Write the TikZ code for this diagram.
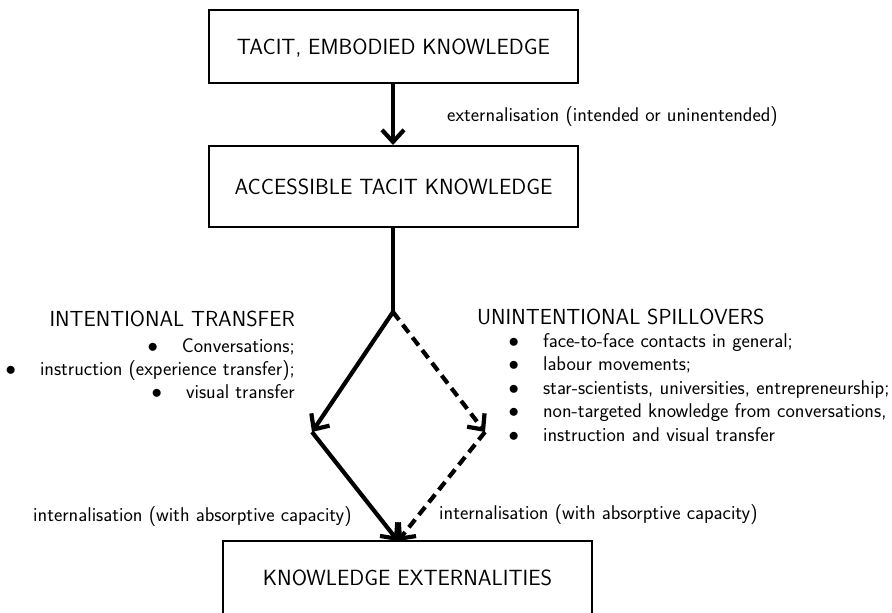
\documentclass[tikz,border=0pt]{standalone}
\usetikzlibrary{arrows.meta}
\newcommand{\bulletmark}{$\bullet$\hspace{24pt}}
\begin{document}
\begin{tikzpicture}[x=1pt, y=-1pt,
  box/.style={draw, line width=2pt, minimum width=369pt, text height=15.2pt, text depth=0pt,
              font=\sffamily\fontsize{22}{26}\selectfont},
  heading/.style={font=\sffamily\fontsize{21.8}{26}\selectfont, inner sep=0pt},
  item/.style={font=\sffamily\fontsize{19.9}{24}\selectfont, inner sep=0pt},
  flow/.style={line width=4.2pt, -{Straight Barb[length=12pt, width=22pt]}},
  link/.style={line width=4.2pt},
  spill/.style={flow, dash pattern=on 10pt off 6pt}
]
\clip (0,0) rectangle (892,613);

% boxes
\node[box, minimum height=73pt] (tacit) at (393.5,46.5) {TACIT, EMBODIED KNOWLEDGE};
\node[box, minimum height=81pt] (access) at (393.5,186.5) {ACCESSIBLE TACIT KNOWLEDGE};
\node[box, minimum height=74pt] (ext) at (407.5,578) {KNOWLEDGE EXTERNALITIES};

% branching points
\coordinate (fork) at (393,312);
\coordinate (left) at (312,432);
\coordinate (right) at (485,432);
\coordinate (tip) at (398,541);

% connectors
\draw[flow] (tacit.south -| fork) -- (access.north -| fork);
\draw[link] (access.south -| fork) -- (fork);
\draw[flow] (fork) -- (left);
\draw[flow] (left) -- (tip);
\draw[spill] (fork) -- (right);
\draw[spill] (right) -- (tip);

% labels on the connectors
\node[item, anchor=base west] (lext) at (447,121) {externalisation (intended or uninentended)};
\node[item, anchor=base west] (lintl) at (33,521) {internalisation (with absorptive capacity)};
\node[item, anchor=base west] (lintr) at (439,519) {internalisation (with absorptive capacity)};

% intentional transfer
\node[heading, anchor=base east] (ith) at (295,326) {INTENTIONAL TRANSFER};
\node[item, anchor=base east] (it1) at (295,352) {\bulletmark Conversations;};
\node[item, anchor=base east] (it2) at (295,375) {\bulletmark instruction (experience transfer);};
\node[item, anchor=base east] (it3) at (295,398) {\bulletmark visual transfer};

% unintentional spillovers
\node[heading, anchor=base west] (ush) at (477,324) {UNINTENTIONAL SPILLOVERS};
\node[item, anchor=base west] (us1) at (508.5,347) {\bulletmark face-to-face contacts in general;};
\node[item, anchor=base west] (us2) at (508.5,370.5) {\bulletmark labour movements;};
\node[item, anchor=base west] (us3) at (508.5,394) {\bulletmark star-scientists, universities, entrepreneurship;};
\node[item, anchor=base west] (us4) at (508.5,417.5) {\bulletmark non-targeted knowledge from conversations,};
\node[item, anchor=base west] (us5) at (508.5,441) {\bulletmark instruction and visual transfer};
\end{tikzpicture}
\end{document}
